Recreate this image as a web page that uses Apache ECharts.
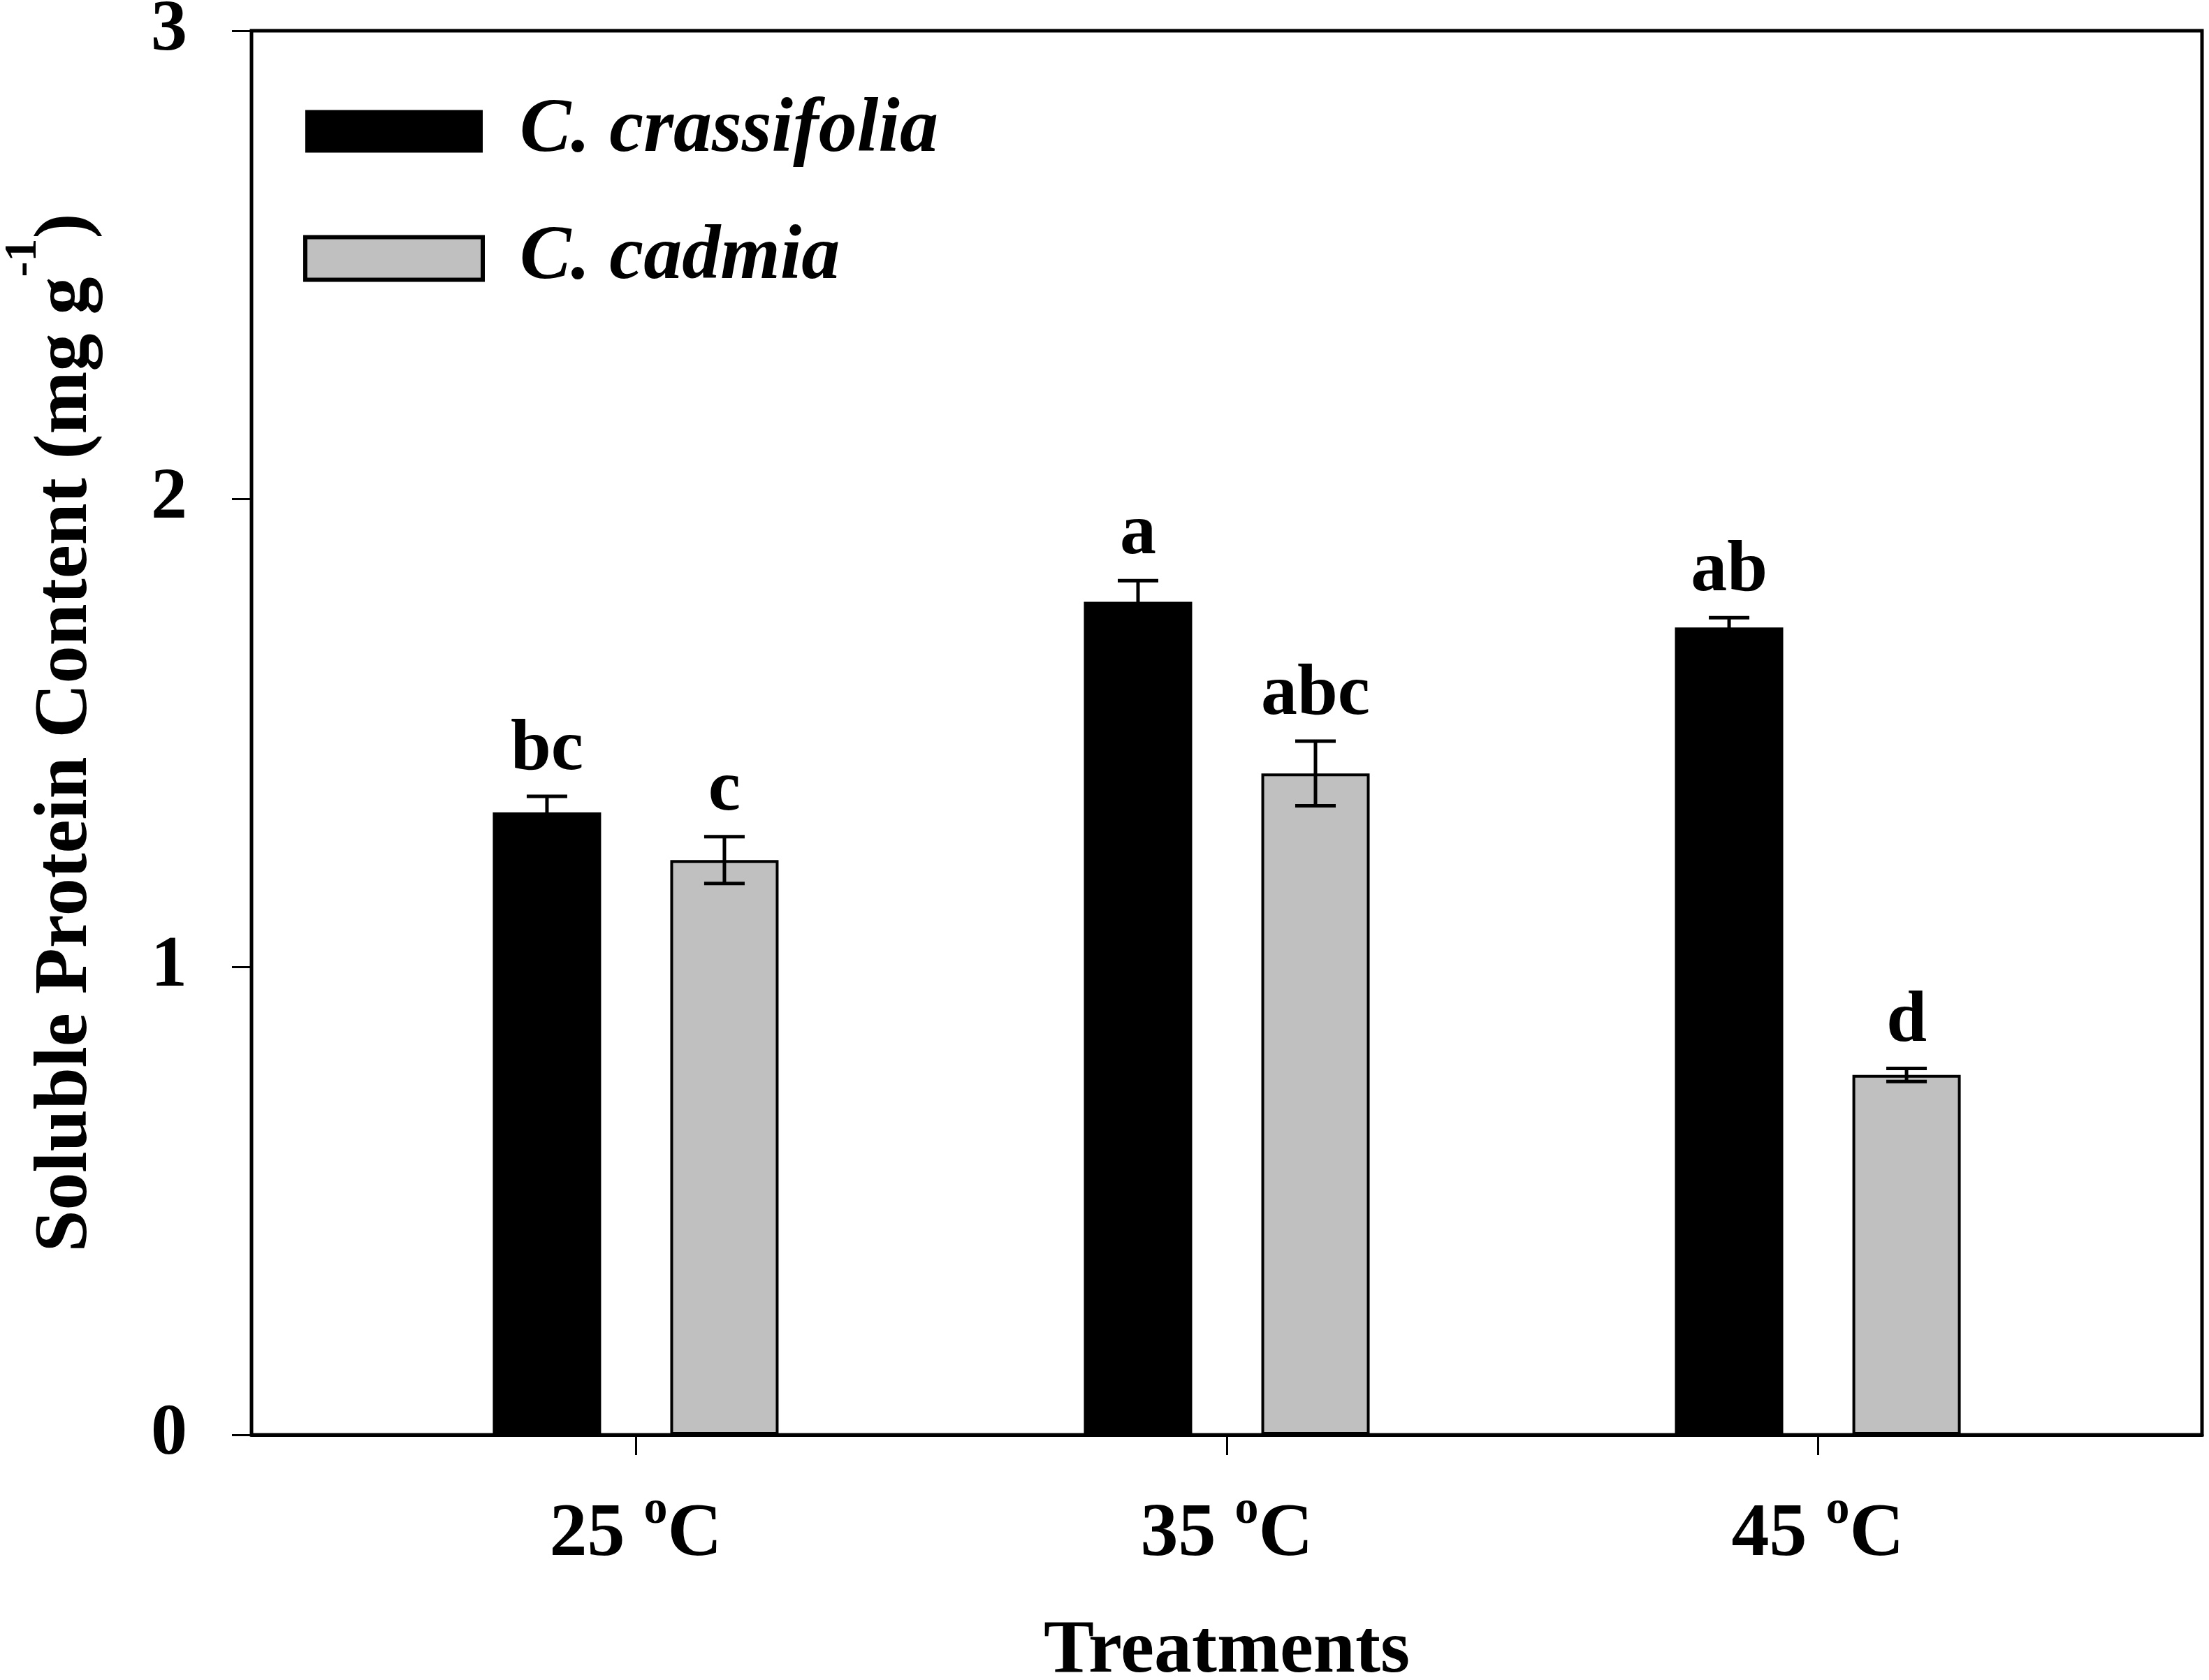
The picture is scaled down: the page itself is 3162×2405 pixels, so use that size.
<!DOCTYPE html>
<html>
<head>
    <meta charset="utf-8" />
    <title>Soluble Protein Content</title>
    <style>
        html, body { margin: 0; padding: 0; background: #fff; }
        #main { width: 3162px; height: 2405px; }
    </style>
    <script src="https://cdn.jsdelivr.net/npm/echarts@6/dist/echarts.min.js"></script>
</head>
<body>
    <div id="main"></div>
    <script type="text/javascript">
        // data
        const temps = ['25', '35', '45'];
        const crassifoliaMean = [1.33, 1.78, 1.725];
        const crassifoliaErr = [0.034, 0.045, 0.021];
        const crassifoliaLetters = ['bc', 'a', 'ab'];
        const cadmiaMean = [1.228, 1.413, 0.769];
        const cadmiaErr = [0.05, 0.069, 0.014];
        const cadmiaLetters = ['c', 'abc', 'd'];
        const yTicks = [0, 1, 2, 3];

        const FONT = '"Times New Roman", "Liberation Serif", serif';
        const BAR_W = 155;
        const BAR_GAP = 99;
        const CAP_W = 58;

        const chart = echarts.init(document.getElementById('main'));

        function barData(means) {
            return means.map((v, i) => [i + 1, v]);
        }
        function errData(means, errs) {
            return means.map((v, i) => [i + 1, v, errs[i]]);
        }

        // error bars + significance letters, shifted onto each bar
        function makeErrRender(side, letters) {
            return function (params, api) {
                const x = api.value(0);
                const m = api.value(1);
                const e = api.value(2);
                const off = side * (BAR_W + BAR_GAP) / 2;
                const top = api.coord([x, m + e]);
                const bot = api.coord([x, m - e]);
                const cx = top[0] + off;
                const style = { stroke: '#000', lineWidth: 5 };
                return {
                    type: 'group',
                    children: [
                        { type: 'line', shape: { x1: cx, y1: top[1], x2: cx, y2: bot[1] }, style: style },
                        { type: 'line', shape: { x1: cx - CAP_W / 2, y1: top[1], x2: cx + CAP_W / 2, y2: top[1] }, style: style },
                        { type: 'line', shape: { x1: cx - CAP_W / 2, y1: bot[1], x2: cx + CAP_W / 2, y2: bot[1] }, style: style },
                        {
                            type: 'text',
                            x: cx,
                            y: top[1] - 14,
                            style: {
                                text: letters[params.dataIndex],
                                fill: '#000',
                                font: 'bold 104px ' + FONT,
                                align: 'center',
                                verticalAlign: 'bottom'
                            }
                        }
                    ]
                };
            };
        }

        const option = {
            backgroundColor: '#fff',
            animation: false,
            textStyle: { fontFamily: FONT, color: '#000' },
            grid: {
                left: 360,
                top: 44,
                right: 10,
                bottom: 351,
                show: true,
                borderColor: '#000',
                borderWidth: 5,
                outerBoundsMode: 'none'
            },
            legend: {
                orient: 'vertical',
                left: 429,
                top: 128,
                icon: 'rect',
                itemWidth: 254,
                itemHeight: 61,
                itemGap: 72,
                data: [
                    { name: 'C. crassifolia' },
                    { name: 'C. cadmia', itemStyle: { borderWidth: 6 } }
                ],
                textStyle: {
                    fontFamily: FONT,
                    fontSize: 110,
                    lineHeight: 110,
                    fontStyle: 'italic',
                    fontWeight: 'bold',
                    color: '#000',
                    padding: [0, 0, 0, 48]
                }
            },
            xAxis: {
                type: 'value',
                min: 0.35,
                max: 3.65,
                name: 'Treatments',
                nameLocation: 'middle',
                nameGap: 257,
                nameTextStyle: { fontFamily: FONT, fontSize: 108, fontWeight: 'bold', color: '#000' },
                splitLine: { show: false },
                axisLine: { show: true, lineStyle: { color: '#000', width: 5 } },
                axisTick: {
                    show: true,
                    customValues: [1, 2, 3],
                    inside: false,
                    length: 29,
                    lineStyle: { color: '#000', width: 3 }
                },
                axisLabel: {
                    customValues: [1, 2, 3],
                    margin: 74,
                    formatter: function (v) {
                        return '{n|' + temps[Math.round(v) - 1] + ' }{s|o}{n|C}';
                    },
                    rich: {
                        n: { fontFamily: FONT, fontSize: 108, fontWeight: 'bold', color: '#000', lineHeight: 124, verticalAlign: 'bottom' },
                        s: { fontFamily: FONT, fontSize: 68, fontWeight: 'bold', color: '#000', verticalAlign: 'top', lineHeight: 60 }
                    }
                }
            },
            yAxis: {
                type: 'value',
                min: 0,
                max: 3,
                interval: 1,
                name: '{t|Soluble Protein Content (mg g}{s|-1}{t|)}',
                nameLocation: 'middle',
                nameRotate: 90,
                nameGap: 211,
                nameTextStyle: {
                    rich: {
                        t: { fontFamily: FONT, fontSize: 108, fontWeight: 'bold', color: '#000', lineHeight: 148, verticalAlign: 'bottom' },
                        s: { fontFamily: FONT, fontSize: 66, fontWeight: 'bold', color: '#000', verticalAlign: 'top', lineHeight: 64 }
                    }
                },
                splitLine: { show: false },
                axisLine: { show: true, onZero: false, lineStyle: { color: '#000', width: 4 } },
                axisTick: { show: true, inside: false, length: 28, lineStyle: { color: '#000', width: 3 } },
                axisLabel: {
                    margin: 92,
                    fontFamily: FONT,
                    fontSize: 104,
                    fontWeight: 'bold',
                    color: '#000',
                    customValues: yTicks
                }
            },
            series: [
                {
                    name: 'C. crassifolia',
                    type: 'bar',
                    barWidth: BAR_W,
                    barGap: (BAR_GAP / BAR_W * 100).toFixed(1) + '%',
                    itemStyle: { color: '#000', borderColor: '#000', borderWidth: 0 },
                    data: barData(crassifoliaMean)
                },
                {
                    name: 'C. cadmia',
                    type: 'bar',
                    barWidth: BAR_W,
                    barGap: (BAR_GAP / BAR_W * 100).toFixed(1) + '%',
                    itemStyle: { color: '#c0c0c0', borderColor: '#000', borderWidth: 4 },
                    data: barData(cadmiaMean)
                },
                {
                    type: 'custom',
                    renderItem: makeErrRender(-1, crassifoliaLetters),
                    z: 5,
                    data: errData(crassifoliaMean, crassifoliaErr)
                },
                {
                    type: 'custom',
                    renderItem: makeErrRender(1, cadmiaLetters),
                    z: 5,
                    data: errData(cadmiaMean, cadmiaErr)
                }
            ]
        };
        chart.setOption(option);
    </script>
</body>
</html>
